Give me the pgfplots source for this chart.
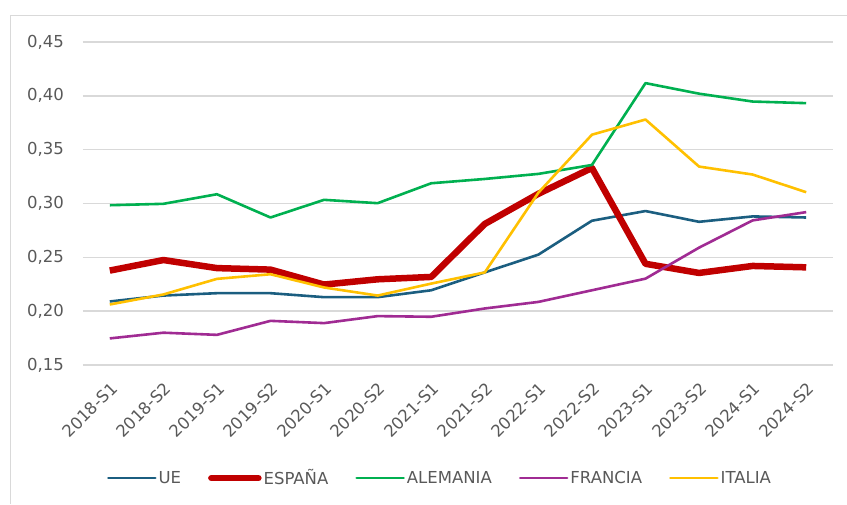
\documentclass[border=0pt]{standalone}
\usepackage{pgfplots}
\pgfplotsset{compat=1.18}
\usepackage{fontspec}
\setmainfont{DejaVu Sans}
\definecolor{cUE}{HTML}{1B5E80}
\definecolor{cES}{HTML}{C00000}
\definecolor{cDE}{HTML}{00B050}
\definecolor{cFR}{HTML}{A02B93}
\definecolor{cIT}{HTML}{FFC000}
\definecolor{gridc}{HTML}{D9D9D9}
\definecolor{txt}{HTML}{595959}
\begin{document}
\begin{tikzpicture}[x=1pt,y=1pt]
\useasboundingbox (0,0) rectangle (847,504);
\draw[gridc,line width=1pt] (10,0) -- (10,488) -- (847,488);
\begin{axis}[
  at={(83pt,139pt)}, anchor=south west,
  scale only axis, width=750pt, height=323pt,
  xmin=-0.5, xmax=13.5, ymin=0.15, ymax=0.45,
  xtick={0,...,13},
  xticklabels={2018-S1,2018-S2,2019-S1,2019-S2,2020-S1,2020-S2,2021-S1,2021-S2,2022-S1,2022-S2,2023-S1,2023-S2,2024-S1,2024-S2},
  ytick={0.15,0.20,0.25,0.30,0.35,0.40,0.45},
  /pgf/number format/fixed,
  /pgf/number format/fixed zerofill,
  /pgf/number format/precision=2,
  /pgf/number format/use comma,
  /pgf/number format/assume math mode=true,
  yticklabel style={anchor=east, inner sep=0pt, xshift=-19pt},
  xticklabel style={xshift=0pt, yshift=-16pt, rotate=45, anchor=north east, inner sep=0pt},
  tick label style={font=\fontsize{16.5}{19}\selectfont, text=txt},
  major tick length=0pt,
  axis line style={draw=none},
  ymajorgrids, grid style={gridc, line width=1.5pt},
  legend style={at={(axis description cs:0.476,-0.35)}, anchor=center, draw=none, fill=none,
    legend columns=5, font=\fontsize{16.5}{19}\selectfont, text=txt,
    /tikz/every even column/.append style={column sep=25pt},
    nodes={inner sep=2pt}},
  legend image code/.code={\draw[#1,line cap=round] (0pt,0pt) -- (47pt,0pt);},
  every axis plot/.append style={line join=round, mark=none},
]
\addplot[cUE, line width=2.6pt] coordinates {(0,0.209) (1,0.2145) (2,0.2167) (3,0.2167) (4,0.213) (5,0.213) (6,0.2194) (7,0.236) (8,0.2525) (9,0.284) (10,0.293) (11,0.283) (12,0.288) (13,0.287)};
\addlegendentry{UE}
\addplot[cES, line width=6.5pt] coordinates {(0,0.2377) (1,0.2475) (2,0.240) (3,0.2386) (4,0.2247) (5,0.2296) (6,0.2318) (7,0.281) (8,0.309) (9,0.333) (10,0.244) (11,0.2355) (12,0.242) (13,0.2407)};
\addlegendentry{ESPAÑA}
\addplot[cDE, line width=2.6pt] coordinates {(0,0.2984) (1,0.2997) (2,0.3086) (3,0.287) (4,0.3034) (5,0.3003) (6,0.3188) (7,0.3228) (8,0.3275) (9,0.3358) (10,0.4118) (11,0.402) (12,0.3947) (13,0.3932)};
\addlegendentry{ALEMANIA}
\addplot[cFR, line width=2.6pt] coordinates {(0,0.1747) (1,0.180) (2,0.178) (3,0.191) (4,0.1889) (5,0.1954) (6,0.1948) (7,0.2025) (8,0.2086) (9,0.2194) (10,0.2302) (11,0.259) (12,0.2843) (13,0.292)};
\addlegendentry{FRANCIA}
\addplot[cIT, line width=2.6pt] coordinates {(0,0.2062) (1,0.2155) (2,0.230) (3,0.2343) (4,0.222) (5,0.2145) (6,0.2256) (7,0.236) (8,0.310) (9,0.3639) (10,0.378) (11,0.3343) (12,0.3269) (13,0.3105)};
\addlegendentry{ITALIA}
\end{axis}
\end{tikzpicture}
\end{document}
